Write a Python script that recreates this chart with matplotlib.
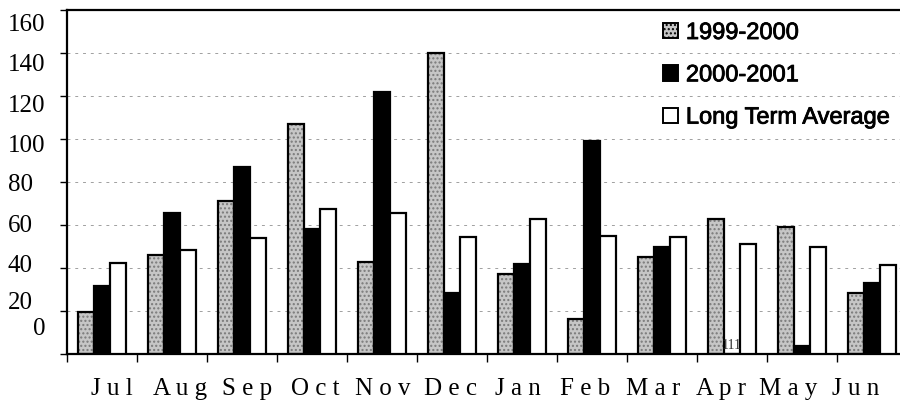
import matplotlib
matplotlib.use("Agg")
import matplotlib.pyplot as plt
import matplotlib.patheffects as pe
from matplotlib.patches import Patch
import numpy as np

# monthly rainfall
months = ["Jul", "Aug", "Sep", "Oct", "Nov", "Dec",
          "Jan", "Feb", "Mar", "Apr", "May", "Jun"]
season_1999 = [19.5, 46, 71, 107, 43, 140, 37, 16.5, 45, 63, 59, 28.5]
season_2000 = [31.5, 65.5, 87, 58, 122, 28.5, 42, 99, 50, 0, 3.5, 33]
long_term = [42.5, 48.5, 54, 67.5, 65.5, 54.5, 63, 55, 54.5, 51, 50, 41.5]

series_names = ["1999-2000", "2000-2001", "Long Term Average"]
grid_values = [0, 20, 40, 60, 80, 100, 120, 140, 160]
# the scanned axis labels drift away from the gridlines they belong to
ytick_labels = ["160", "140", "120", "100", "80", "60", "40", "20",
                "\u2007\u20070"]
ytick_label_pos = [154, 135.6, 116.7, 97.7, 79.8, 60.5, 41.9, 24.7, 12.6]

serif = ["Liberation Serif", "DejaVu Serif"]
sans = "Liberation Sans"

fig = plt.figure(figsize=(9, 4.05), dpi=100)
ax = fig.add_axes([67 / 900, 51 / 405, 840 / 900, 344 / 405])

x = np.arange(len(months))
w = 0.224
gray = "#c6c6c6"

# stippled grey bars: hatched fill first, outline on top
ax.bar(x - w, season_1999, w, color=gray, hatch="....",
       edgecolor="#7a7a7a", linewidth=0, zorder=2)
ax.bar(x - w, season_1999, w, facecolor="none",
       edgecolor="black", linewidth=1.6, zorder=3)
ax.bar(x, season_2000, w, color="black",
       edgecolor="black", linewidth=1.6, zorder=3)
ax.bar(x + w, long_term, w, color="white",
       edgecolor="black", linewidth=1.6, zorder=3)

# stray scan mark inside the empty Apr bar
ax.text(x[9], 0.8, "111", ha="center", va="bottom", fontsize=10,
        family=serif, color="#333333", zorder=4)

ax.set_xlim(-0.5, len(months) - 0.5)
ax.set_ylim(0, 160)

# gridlines and outward ticks at the true values
for v in grid_values[1:-1]:
    ax.axhline(v, color="#a0a0a0", linewidth=0.7,
               linestyle=(0, (3, 5)), zorder=1)
ax.set_yticks(grid_values)
ax.set_yticklabels([])
ax.tick_params(axis="y", which="major", length=5, width=1, direction="out")
ax.set_yticks(ytick_label_pos, minor=True)
ax.set_yticklabels(ytick_labels, minor=True, fontsize=18, family=serif,
                   ha="left")
ax.tick_params(axis="y", which="minor", length=0, pad=42.5)

# x ticks on category boundaries; the printed month row runs at a
# slightly tighter pitch than the bars
ax.set_xticks(np.arange(len(months) + 1) - 0.5)
ax.set_xticklabels([])
ax.tick_params(axis="x", which="major", length=6, width=1, direction="out")
ax.set_xticks(0.143 + 0.966 * x, minor=True)
ax.set_xticklabels([" ".join(m) for m in months], minor=True,
                   fontsize=18, family=serif)
ax.tick_params(axis="x", which="minor", length=0, pad=17)

for side in ["left", "top", "bottom"]:
    ax.spines[side].set_linewidth(1.6)
ax.spines["right"].set_visible(False)

handles = [
    Patch(facecolor=gray, edgecolor="black", hatch="....", linewidth=1.4),
    Patch(facecolor="black", edgecolor="black", linewidth=1.4),
    Patch(facecolor="white", edgecolor="black", linewidth=1.4),
]
leg = fig.legend(handles, series_names, loc="upper left",
                 bbox_to_anchor=(663 / 900, 1 - 22 / 405),
                 frameon=False, prop={"family": sans, "size": 17},
                 handlelength=0.62, handleheight=0.62,
                 handletextpad=0.35, labelspacing=0.86,
                 borderpad=0, borderaxespad=0)
for t in leg.get_texts():
    t.set_path_effects([pe.withStroke(linewidth=0.6, foreground="black")])

fig.savefig("out.png", dpi=100)
